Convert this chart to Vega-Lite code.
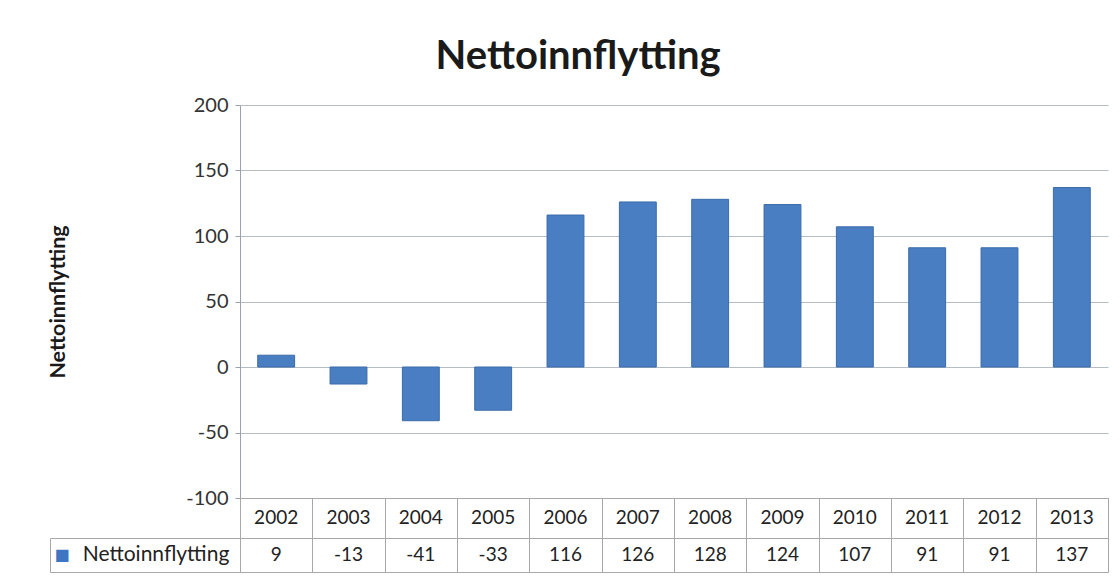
{
  "$schema": "https://vega.github.io/schema/vega-lite/v6.json",
  "background": "white",
  "padding": {"left": 47, "top": 37, "right": 12, "bottom": 4},
  "title": {"text": "Nettoinnflytting", "font": "Lato", "fontSize": 40, "fontWeight": "bold", "color": "#1a1a1a", "anchor": "middle", "offset": 18},
  "config": {
    "font": "Lato",
    "view": {"stroke": null},
    "text": {"font": "Lato"}
  },
  "datasets": {
    "netto": [
      {"year": "2002", "value": 9},
      {"year": "2003", "value": -13},
      {"year": "2004", "value": -41},
      {"year": "2005", "value": -33},
      {"year": "2006", "value": 116},
      {"year": "2007", "value": 126},
      {"year": "2008", "value": 128},
      {"year": "2009", "value": 124},
      {"year": "2010", "value": 107},
      {"year": "2011", "value": 91},
      {"year": "2012", "value": 91},
      {"year": "2013", "value": 137}
    ],
    "series": [{"series": "Nettoinnflytting", "symbol": "■"}]
  },
  "columns": 2,
  "spacing": 0,
  "bounds": "flush",
  "concat": [
    {
      "width": 190, "height": 393,
      "data": {"values": [{}]},
      "mark": {"type": "text", "text": ""},
      "encoding": {}
    },
    {
      "width": 868, "height": 393,
      "data": {"name": "netto"},
      "mark": {"type": "bar", "color": "#4A7EC2", "stroke": "#3A6BAA", "strokeWidth": 1},
      "encoding": {
        "x": {"field": "year", "type": "nominal", "sort": null,
              "scale": {"paddingInner": 0.49, "paddingOuter": 0.245}, "axis": null},
        "y": {"field": "value", "type": "quantitative",
              "scale": {"domain": [-100, 200], "nice": false, "zero": true},
              "axis": {"values": [-100, -50, 0, 50, 100, 150, 200],
                       "labelExpr": "datum.value + ''",
                       "title": "Nettoinnflytting", "titleFontSize": 21.5, "titleFontWeight": "bold",
                       "titleColor": "#1a1a1a", "titlePadding": 116,
                       "labelFontSize": 20, "labelColor": "#333333", "labelPadding": 7,
                       "tickSize": 5, "tickColor": "#9aa3ad", "domainColor": "#9aa3ad",
                       "grid": true, "gridColor": "#b4bcc4"}}
      }
    },
    {
      "width": 190, "height": 40,
      "data": {"values": [{}]},
      "mark": {"type": "text", "text": ""},
      "encoding": {}
    },
    {
      "width": 868, "height": 40,
      "view": {"stroke": "#a8a8a8"},
      "data": {"name": "netto"},
      "mark": {"type": "text", "fontSize": 19, "color": "#222222", "baseline": "middle"},
      "encoding": {
        "x": {"field": "year", "type": "nominal", "sort": null,
              "scale": {"paddingInner": 0, "paddingOuter": 0},
              "axis": {"labels": false, "ticks": false, "domain": false, "title": null,
                       "grid": true, "tickBand": "extent", "gridColor": "#a8a8a8"}},
        "text": {"field": "year"}
      }
    },
    {
      "width": 190, "height": 34,
      "view": {"stroke": "#a8a8a8"},
      "data": {"name": "series"},
      "layer": [
        {"mark": {"type": "text", "fontSize": 16, "color": "#3F76C4", "dx": -83, "font": "DejaVu Sans"},
         "encoding": {"text": {"field": "symbol"}}},
        {"mark": {"type": "text", "fontSize": 21, "color": "#222222", "dx": 11},
         "encoding": {"text": {"field": "series"}}}
      ]
    },
    {
      "width": 868, "height": 34,
      "view": {"stroke": "#a8a8a8"},
      "data": {"name": "netto"},
      "mark": {"type": "text", "fontSize": 19, "color": "#222222", "baseline": "middle"},
      "encoding": {
        "x": {"field": "year", "type": "nominal", "sort": null,
              "scale": {"paddingInner": 0, "paddingOuter": 0},
              "axis": {"labels": false, "ticks": false, "domain": false, "title": null,
                       "grid": true, "tickBand": "extent", "gridColor": "#a8a8a8"}},
        "text": {"field": "value"}
      }
    }
  ]
}
